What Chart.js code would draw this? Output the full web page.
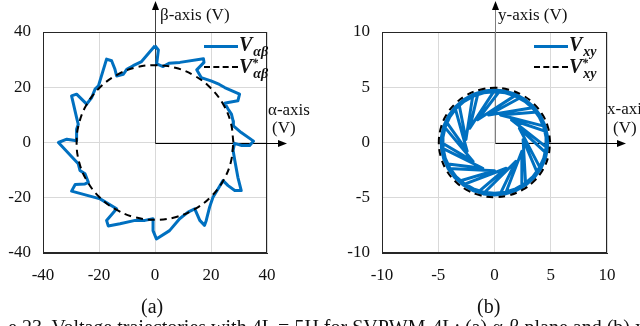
<!DOCTYPE html>
<html><head><meta charset="utf-8">
<script src="https://cdn.jsdelivr.net/npm/chart.js@4.4.1/dist/chart.umd.min.js"></script>
<style>
html,body{margin:0;padding:0;background:#fff;}
body{width:640px;height:326px;overflow:hidden;position:relative;font-family:'Liberation Serif','Times New Roman',serif;color:#111;}
canvas{position:absolute;top:0;}
.t{position:absolute;white-space:nowrap;font-size:17px;line-height:17px;}
.cap{position:absolute;white-space:nowrap;font-size:20px;line-height:20px;}
.lg{position:absolute;white-space:nowrap;font-family:'Liberation Serif',serif;font-weight:bold;font-style:italic;font-size:20px;line-height:20px;}
.sb{font-size:14px;position:relative;top:5px;margin-left:1px;}
.st{font-size:12px;position:absolute;top:-3px;left:13px;}
.ls{position:absolute;height:0;border-top:3px solid #0070C0;}
.ld{position:absolute;height:0;border-top:2px dashed #000;}
</style></head>
<body>
<canvas id="c1" width="320" height="326" style="left:0"></canvas>
<canvas id="c2" width="320" height="326" style="left:320px"></canvas>

<div class="t" style="left:160px;top:6px">β-axis (V)</div>
<div class="t" style="left:268px;top:101px">α-axis</div>
<div class="t" style="left:272px;top:119px">(V)</div>
<div class="t" style="left:498px;top:6px">y-axis (V)</div>
<div class="t" style="left:607px;top:100px">x-axis</div>
<div class="t" style="left:613px;top:119px">(V)</div>

<div class="ls" style="left:204px;top:45px;width:34px"></div>
<div class="lg" style="left:239px;top:34px">V<span class="sb">αβ</span></div>
<div class="ld" style="left:204px;top:66px;width:34px"></div>
<div class="lg" style="left:239px;top:56px">V<span class="st">*</span><span class="sb">αβ</span></div>

<div class="ls" style="left:534px;top:45px;width:34px"></div>
<div class="lg" style="left:569px;top:34px">V<span class="sb">xy</span></div>
<div class="ld" style="left:534px;top:66px;width:34px"></div>
<div class="lg" style="left:569px;top:56px">V<span class="st">*</span><span class="sb">xy</span></div>

<div class="cap" style="left:141px;top:296px">(a)</div>
<div class="cap" style="left:477px;top:296px">(b)</div>
<div class="cap" style="left:8px;top:317px">e 23. Voltage trajectories with 4L = 5H for SVPWM-4L: (a) α-β plane and (b) x-y plane.</div>

<script>
// ---- data ----
const abTicks = [-40, -20, 0, 20, 40];
const xyTicks = [-10, -5, 0, 5, 10];

// measured α-β trajectory (V)
const vAlphaBeta = [
[0,35],[1.2,33.5],[0.6,28.5],[2.9,27.5],[5,28.7],[8.9,29],[17.3,30.3],[17.5,29],[14.9,26.3],
[16.5,23.5],[20,22.3],[23,21],[24.9,19.9],[30.2,17.5],[29.6,15.1],[26.1,14.5],[24.9,14.2],
[26.1,12.1],[27.3,10.3],[27.9,7.8],[28,6],[30.8,3.6],[35.2,0.5],[33.8,-1.1],[31,-1.1],
[28.4,-0.3],[27.9,-2.9],[28.5,-6.5],[29.6,-12.6],[30.8,-17.4],[28.5,-17.4],[26.1,-15.6],
[24.3,-13.8],[22.5,-16.8],[20.7,-19.8],[19.5,-23.4],[18.3,-28.2],[17.7,-30],[16,-28.2],
[14.2,-24],[11.8,-25.2],[8.8,-27.6],[5.2,-31.9],[0.5,-34.9],[-0.7,-31.9],[-0.7,-27.6],
[-3.6,-28.2],[-7.1,-28.2],[-12.5,-29.4],[-16.7,-30.2],[-17.3,-28.2],[-13.7,-24],[-19.6,-20.4],
[-29.8,-17.6],[-28.5,-15.2],[-25,-15],[-23.8,-14.4],[-25,-11.3],[-26.8,-10.1],[-27.4,-7.7],
[-34.5,0],[-31.5,1.2],[-28,0.6],[-28,4.8],[-27.4,6.6],[-28,9],[-29.8,16.9],[-28,17.5],
[-26.2,15.7],[-24.4,13.9],[-22.6,16.3],[-21.4,19.3],[-20.2,20.5],[-17.3,30.2],[-15.5,29.6],
[-14.3,26.5],[-13.7,24.1],[-11.3,24.7],[-10.1,26.5],[-7.8,27.8],[-4.8,29.3],[0,35]
];
// reference α-β circle (V)
const refAlphaBeta = [
[28,0],[27.05,7.25],[24.25,14],[19.8,19.8],[14,24.25],[7.25,27.05],[0,28],[-7.25,27.05],
[-14,24.25],[-19.8,19.8],[-24.25,14],[-27.05,7.25],[-28,0],[-27.05,-7.25],[-24.25,-14],
[-19.8,-19.8],[-14,-24.25],[-7.25,-27.05],[0,-28],[7.25,-27.05],[14,-24.25],[19.8,-19.8],
[24.25,-14],[27.05,-7.25],[28,0]
];
// measured x-y trajectory (V): spokes between rim and inner vertices, then the rim band
const vXY = [
[0,4.72],[0.49,4.69],[-1.50,2.06],
[1.92,4.31],[2.36,4.09],[-0.53,2.49],
[3.51,3.16],[3.82,2.77],[0.53,2.49],
[4.49,1.46],[4.62,0.98],[1.50,2.06],
[4.69,-0.49],[4.62,-0.98],[2.21,1.28],
[4.09,-2.36],[3.82,-2.77],[2.54,0.27],
[2.77,-3.82],[2.36,-4.09],[2.43,-0.79],
[0.98,-4.62],[0.49,-4.69],[1.90,-1.71],
[-0.98,-4.62],[-1.46,-4.49],[1.04,-2.33],
[-2.77,-3.82],[-3.16,-3.51],[0,-2.55],
[-4.09,-2.36],[-4.31,-1.92],[-1.04,-2.33],
[-4.69,-0.49],[-4.72,0],[-1.90,-1.71],
[-4.49,1.46],[-4.31,1.92],[-2.43,-0.79],
[-3.51,3.16],[-3.16,3.51],[-2.54,0.27],
[-1.92,4.31],[-1.46,4.49],[-2.21,1.28],
[0,4.72],
[0,4.75],[0.99,4.65],[1.93,4.34],[2.79,3.84],[3.53,3.18],[4.11,2.38],[4.52,1.47],[4.72,0.5],
[4.72,-0.5],[4.52,-1.47],[4.11,-2.38],[3.53,-3.18],[2.79,-3.84],[1.93,-4.34],[0.99,-4.65],
[0,-4.75],[-0.99,-4.65],[-1.93,-4.34],[-2.79,-3.84],[-3.53,-3.18],[-4.11,-2.38],[-4.52,-1.47],
[-4.72,-0.5],[-4.72,0.5],[-4.52,1.47],[-4.11,2.38],[-3.53,3.18],[-2.79,3.84],[-1.93,4.34],
[-0.99,4.65],[0,4.75],
[0,4.6],[0.96,4.5],[1.87,4.2],[2.7,3.72],[3.42,3.08],[3.98,2.3],[4.38,1.42],[4.58,0.48],
[4.58,-0.48],[4.38,-1.42],[3.98,-2.3],[3.42,-3.08],[2.7,-3.72],[1.87,-4.2],[0.96,-4.5],
[0,-4.6],[-0.96,-4.5],[-1.87,-4.2],[-2.7,-3.72],[-3.42,-3.08],[-3.98,-2.3],[-4.38,-1.42],
[-4.58,-0.48],[-4.58,0.48],[-4.38,1.42],[-3.98,2.3],[-3.42,3.08],[-2.7,3.72],[-1.87,4.2],
[-0.96,4.5],[0,4.6]
];
// reference x-y circle (V)
const refXY = [
[4.95,0],[4.78,1.28],[4.29,2.48],[3.5,3.5],[2.48,4.29],[1.28,4.78],[0,4.95],[-1.28,4.78],
[-2.48,4.29],[-3.5,3.5],[-4.29,2.48],[-4.78,1.28],[-4.95,0],[-4.78,-1.28],[-4.29,-2.48],
[-3.5,-3.5],[-2.48,-4.29],[-1.28,-4.78],[0,-4.95],[1.28,-4.78],[2.48,-4.29],[3.5,-3.5],
[4.29,-2.48],[4.78,-1.28],[4.95,0]
];

// ---- chart helpers ----
const toXY = a => a.map(p => ({x:p[0], y:p[1]}));
const FONT = {family:"'Liberation Serif','Times New Roman',serif", size:17};

const axisArrows = {
  id:'axisArrows',
  beforeDatasetsDraw(chart, args, o){
    const {ctx, chartArea:a, scales:{x,y}} = chart;
    const cx = Math.round(x.getPixelForValue(0)) + 0.5;
    const cy = Math.round(y.getPixelForValue(0)) + 0.5;
    ctx.save();
    ctx.lineWidth = 1;
    ctx.strokeStyle = '#262626';
    ctx.strokeRect(Math.round(a.left)+0.5, Math.round(a.top)+0.5, Math.round(a.right-a.left)-1, Math.round(a.bottom-a.top)-1);
    ctx.strokeStyle = o.vColor;
    ctx.beginPath(); ctx.moveTo(cx, cy); ctx.lineTo(cx, o.top + 6); ctx.stroke();
    ctx.fillStyle = '#000';
    ctx.beginPath(); ctx.moveTo(cx, o.top); ctx.lineTo(cx-3.5, o.top+9); ctx.lineTo(cx+3.5, o.top+9); ctx.closePath(); ctx.fill();
    ctx.strokeStyle = '#000';
    ctx.beginPath(); ctx.moveTo(cx, cy); ctx.lineTo(o.right - 6, cy); ctx.stroke();
    ctx.beginPath(); ctx.moveTo(o.right, cy); ctx.lineTo(o.right-9, cy-3.5); ctx.lineTo(o.right-9, cy+3.5); ctx.closePath(); ctx.fill();
    ctx.restore();
  }
};

function makeChart(id, ticks, meas, ref, layout, yWidth, arrows, lw){
  const lim = ticks[ticks.length-1];
  const axis = (extra) => Object.assign({
    type:'linear', min:-lim, max:lim,
    afterBuildTicks: s => { s.ticks = ticks.map(v => ({value:v})); },
    grid:{color:'#d9d9d9', lineWidth:1, drawTicks:false},
    border:{display:true, color:'#262626', width:1}
  }, extra);
  return new Chart(document.getElementById(id), {
    type:'scatter',
    data:{datasets:[
      {label:'ref', data:toXY(ref), showLine:true, borderColor:'#000', borderWidth:2,
       borderDash:[7,5], pointRadius:0, tension:0.4, order:0},
      {label:'meas', data:toXY(meas), showLine:true, borderColor:'#0070C0', borderWidth:lw,
       pointRadius:0, tension:0, borderJoinStyle:'round', order:1}
    ]},
    options:{
      responsive:false, animation:false, events:[],
      layout:{padding:layout},
      plugins:{legend:{display:false}, tooltip:{enabled:false}, axisArrows:arrows},
      scales:{
        x: axis({ticks:{font:FONT, color:'#111', padding:12, maxRotation:0, autoSkip:false}, afterFit: s => { s.height = 30; }}),
        y: axis({ticks:{font:FONT, color:'#111', padding:12, autoSkip:false}, afterFit: s => { s.width = yWidth; }})
      }
    },
    plugins:[axisArrows]
  });
}

makeChart('c1', abTicks, vAlphaBeta, refAlphaBeta, {left:0, right:53, top:32, bottom:43}, 43,
  {top:1, right:287, vColor:'#404040'}, 3);
makeChart('c2', xyTicks, vXY, refXY, {left:0, right:33, top:32, bottom:43}, 62,
  {top:1, right:306, vColor:'#808080'}, 3);
</script>
</body></html>
